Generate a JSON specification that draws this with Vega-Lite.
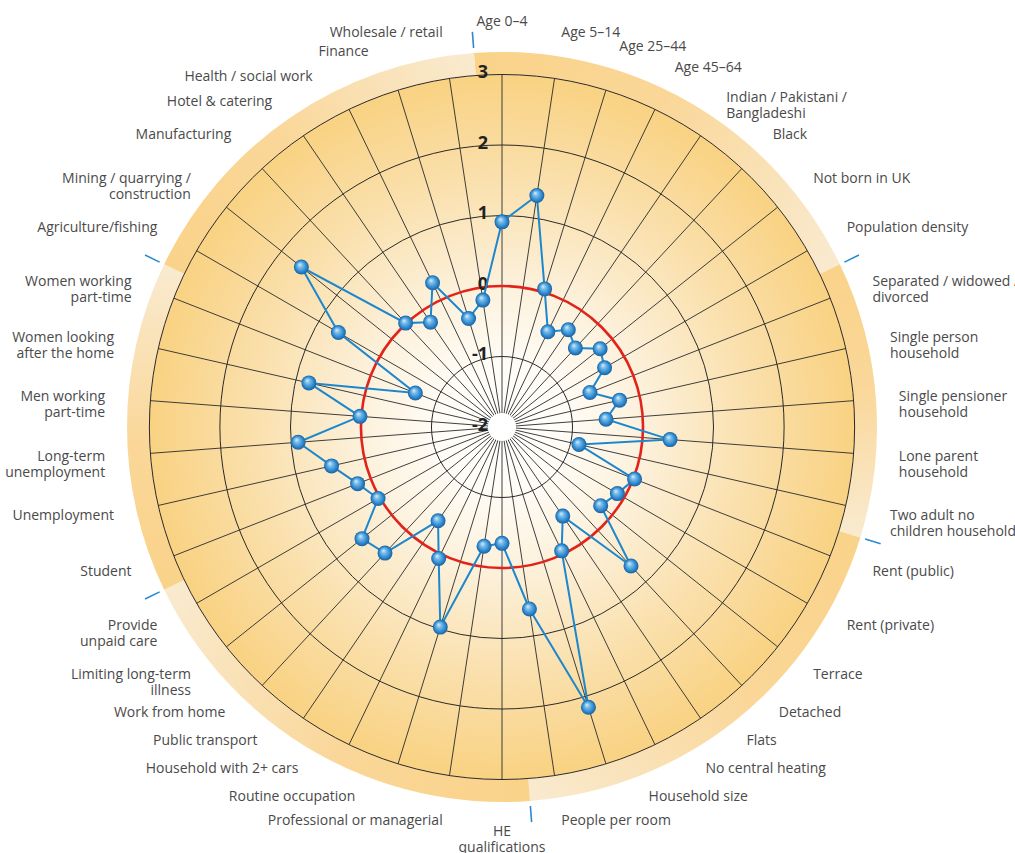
{
  "$schema": "https://vega.github.io/schema/vega-lite/v6.json",
  "width": 854,
  "height": 854,
  "autosize": {"type": "none"},
  "padding": {"left": 75, "top": 0, "right": 86, "bottom": 0},
  "background": "white",
  "config": {"view": {"stroke": null}},
  "datasets": {
    "vars": [
      {"i": 0, "label": "Age 0–4", "v": 0.91},
      {"i": 1, "label": "Age 5–14", "v": 1.32},
      {"i": 2, "label": "Age 25–44", "v": 0.05},
      {"i": 3, "label": "Age 45–64", "v": -0.5},
      {"i": 4, "label": "Indian / Pakistani /\nBangladeshi", "v": -0.33},
      {"i": 5, "label": "Black", "v": -0.47},
      {"i": 6, "label": "Not born in UK", "v": -0.22},
      {"i": 7, "label": "Population density", "v": -0.32},
      {"i": 8, "label": "Separated / widowed /\ndivorced", "v": -0.66},
      {"i": 9, "label": "Single person\nhousehold", "v": -0.29},
      {"i": 10, "label": "Single pensioner\nhousehold", "v": -0.52},
      {"i": 11, "label": "Lone parent\nhousehold", "v": 0.39},
      {"i": 12, "label": "Two adult no\nchildren household", "v": -0.88},
      {"i": 13, "label": "Rent (public)", "v": 0.02},
      {"i": 14, "label": "Rent (private)", "v": -0.11},
      {"i": 15, "label": "Terrace", "v": -0.21},
      {"i": 16, "label": "Detached", "v": 0.69},
      {"i": 17, "label": "Flats", "v": -0.47},
      {"i": 18, "label": "No central heating", "v": -0.05},
      {"i": 19, "label": "Household size", "v": 2.16},
      {"i": 20, "label": "People per room", "v": 0.61},
      {"i": 21, "label": "HE\nqualifications", "v": -0.35},
      {"i": 22, "label": "Professional or managerial", "v": -0.29},
      {"i": 23, "label": "Routine occupation", "v": 0.97},
      {"i": 24, "label": "Household with 2+ cars", "v": 0.07},
      {"i": 25, "label": "Public transport", "v": -0.39},
      {"i": 26, "label": "Work from home", "v": 0.44},
      {"i": 27, "label": "Limiting long-term\nillness", "v": 0.54},
      {"i": 28, "label": "Provide\nunpaid care", "v": 0.03},
      {"i": 29, "label": "Student", "v": 0.2},
      {"i": 30, "label": "Unemployment", "v": 0.48},
      {"i": 31, "label": "Long-term\nunemployment", "v": 0.9},
      {"i": 32, "label": "Men working\npart-time", "v": 0.02},
      {"i": 33, "label": "Women looking\nafter the home", "v": 0.81},
      {"i": 34, "label": "Women working\npart-time", "v": -0.68},
      {"i": 35, "label": "Agriculture/fishing", "v": 0.68},
      {"i": 36, "label": "Mining / quarrying /\nconstruction", "v": 1.64},
      {"i": 37, "label": "Manufacturing", "v": 0.01},
      {"i": 38, "label": "Hotel & catering", "v": -0.2},
      {"i": 39, "label": "Health / social work", "v": 0.27},
      {"i": 40, "label": "Finance", "v": -0.39},
      {"i": 41, "label": "Wholesale / retail", "v": -0.18}
    ],
    "groups": [
      {"g": "G1", "start": -0.5, "end": 7.5},
      {"g": "G2", "start": 7.5, "end": 12.5},
      {"g": "G3", "start": 12.5, "end": 20.5},
      {"g": "G4", "start": 20.5, "end": 28.5},
      {"g": "G5", "start": 28.5, "end": 34.5},
      {"g": "G6", "start": 34.5, "end": 41.5}
    ],
    "circles": [
      {"kind": "disc", "r": 3},
      {"kind": "ring", "r": -1},
      {"kind": "ring", "r": 1},
      {"kind": "ring", "r": 2},
      {"kind": "ring", "r": 3},
      {"kind": "zero", "r": 0},
      {"kind": "hole", "r": -1.8}
    ],
    "ticks": [
      {"t": 3, "lab": "3"}, {"t": 2, "lab": "2"}, {"t": 1, "lab": "1"},
      {"t": 0, "lab": "0"}, {"t": -1, "lab": "-1"}, {"t": -2, "lab": "-2"}
    ]
  },
  "layer": [
    {
      "data": {"name": "circles"},
      "transform": [{"filter": "datum.kind == 'disc'"}, {"calculate": "0", "as": "a0"}, {"calculate": "42", "as": "a1"}, {"calculate": "-2", "as": "r0"}],
      "mark": {"type": "arc", "stroke": null, "fill": {"gradient": "radial", "x1": 0.5, "y1": 0.5, "r1": 0, "x2": 0.5, "y2": 0.5, "r2": 0.5,
        "stops": [{"offset": 0, "color": "#ffffff"}, {"offset": 0.18, "color": "#fffcf6"}, {"offset": 0.42, "color": "#fcf0d9"}, {"offset": 0.7, "color": "#fae0ad"}, {"offset": 1, "color": "#f9d282"}]}},
      "encoding": {
        "theta": {"field": "a0", "type": "quantitative", "stack": null, "scale": {"type": "linear", "domain": [0, 42], "range": [0, 6.2832], "zero": false, "nice": false}},
        "theta2": {"field": "a1"},
        "radius": {"field": "r", "type": "quantitative", "scale": {"type": "linear", "domain": [-2, 3], "range": [0, 352.5], "zero": false, "nice": false}},
        "radius2": {"field": "r0"}
      }
    },
    {
      "data": {"name": "groups"}, "transform": [{"filter": "datum.g == 'G1'"}, {"calculate": "3.319", "as": "ro"}, {"calculate": "3", "as": "ri"}],
      "mark": {"type": "arc", "stroke": null, "fill": {"gradient": "linear", "x1": 0.0023, "y1": 0.0553, "x2": 1.1543, "y2": 0.4589,
        "stops": [{"offset": 0, "color": "#fad38a"}, {"offset": 0.45, "color": "#fad799"}, {"offset": 1, "color": "#f9eacf"}]}},
      "encoding": {
        "theta": {"field": "start", "type": "quantitative", "stack": null, "scale": {"type": "linear", "domain": [0, 42], "range": [0, 6.2832], "zero": false, "nice": false}},
        "theta2": {"field": "end"},
        "radius": {"field": "ro", "type": "quantitative", "scale": {"type": "linear", "domain": [-2, 3], "range": [0, 352.5], "zero": false, "nice": false}},
        "radius2": {"field": "ri"}
      }
    },
    {
      "data": {"name": "groups"}, "transform": [{"filter": "datum.g == 'G2'"}, {"calculate": "3.319", "as": "ro"}, {"calculate": "3", "as": "ri"}],
      "mark": {"type": "arc", "stroke": null, "fill": {"gradient": "linear", "x1": 0.1766, "y1": 0.0179, "x2": 0.192, "y2": 0.9931,
        "stops": [{"offset": 0, "color": "#fad38a"}, {"offset": 0.45, "color": "#fad799"}, {"offset": 1, "color": "#f9eacf"}]}},
      "encoding": {
        "theta": {"field": "start", "type": "quantitative", "stack": null, "scale": {"type": "linear", "domain": [0, 42], "range": [0, 6.2832], "zero": false, "nice": false}},
        "theta2": {"field": "end"},
        "radius": {"field": "ro", "type": "quantitative", "scale": {"type": "linear", "domain": [-2, 3], "range": [0, 352.5], "zero": false, "nice": false}},
        "radius2": {"field": "ri"}
      }
    },
    {
      "data": {"name": "groups"}, "transform": [{"filter": "datum.g == 'G3'"}, {"calculate": "3.319", "as": "ro"}, {"calculate": "3", "as": "ri"}],
      "mark": {"type": "arc", "stroke": null, "fill": {"gradient": "linear", "x1": 0.9676, "y1": 0.0123, "x2": -0.1436, "y2": 0.733,
        "stops": [{"offset": 0, "color": "#fad38a"}, {"offset": 0.45, "color": "#fad799"}, {"offset": 1, "color": "#f9eacf"}]}},
      "encoding": {
        "theta": {"field": "start", "type": "quantitative", "stack": null, "scale": {"type": "linear", "domain": [0, 42], "range": [0, 6.2832], "zero": false, "nice": false}},
        "theta2": {"field": "end"},
        "radius": {"field": "ro", "type": "quantitative", "scale": {"type": "linear", "domain": [-2, 3], "range": [0, 352.5], "zero": false, "nice": false}},
        "radius2": {"field": "ri"}
      }
    },
    {
      "data": {"name": "groups"}, "transform": [{"filter": "datum.g == 'G4'"}, {"calculate": "3.319", "as": "ro"}, {"calculate": "3", "as": "ri"}],
      "mark": {"type": "arc", "stroke": null, "fill": {"gradient": "linear", "x1": 0.9977, "y1": 0.9447, "x2": -0.1543, "y2": 0.5411,
        "stops": [{"offset": 0, "color": "#fad38a"}, {"offset": 0.45, "color": "#fad799"}, {"offset": 1, "color": "#f9eacf"}]}},
      "encoding": {
        "theta": {"field": "start", "type": "quantitative", "stack": null, "scale": {"type": "linear", "domain": [0, 42], "range": [0, 6.2832], "zero": false, "nice": false}},
        "theta2": {"field": "end"},
        "radius": {"field": "ro", "type": "quantitative", "scale": {"type": "linear", "domain": [-2, 3], "range": [0, 352.5], "zero": false, "nice": false}},
        "radius2": {"field": "ri"}
      }
    },
    {
      "data": {"name": "groups"}, "transform": [{"filter": "datum.g == 'G5'"}, {"calculate": "3.319", "as": "ro"}, {"calculate": "3", "as": "ri"}],
      "mark": {"type": "arc", "stroke": null, "fill": {"gradient": "linear", "x1": 0.8234, "y1": 0.985, "x2": 0.8234, "y2": 0.015,
        "stops": [{"offset": 0, "color": "#fad38a"}, {"offset": 0.45, "color": "#fad799"}, {"offset": 1, "color": "#f9eacf"}]}},
      "encoding": {
        "theta": {"field": "start", "type": "quantitative", "stack": null, "scale": {"type": "linear", "domain": [0, 42], "range": [0, 6.2832], "zero": false, "nice": false}},
        "theta2": {"field": "end"},
        "radius": {"field": "ro", "type": "quantitative", "scale": {"type": "linear", "domain": [-2, 3], "range": [0, 352.5], "zero": false, "nice": false}},
        "radius2": {"field": "ri"}
      }
    },
    {
      "data": {"name": "groups"}, "transform": [{"filter": "datum.g == 'G6'"}, {"calculate": "3.319", "as": "ro"}, {"calculate": "3", "as": "ri"}],
      "mark": {"type": "arc", "stroke": null, "fill": {"gradient": "linear", "x1": 0.0325, "y1": 0.9779, "x2": 1.1778, "y2": 0.4239,
        "stops": [{"offset": 0, "color": "#fad38a"}, {"offset": 0.45, "color": "#fad799"}, {"offset": 1, "color": "#f9eacf"}]}},
      "encoding": {
        "theta": {"field": "start", "type": "quantitative", "stack": null, "scale": {"type": "linear", "domain": [0, 42], "range": [0, 6.2832], "zero": false, "nice": false}},
        "theta2": {"field": "end"},
        "radius": {"field": "ro", "type": "quantitative", "scale": {"type": "linear", "domain": [-2, 3], "range": [0, 352.5], "zero": false, "nice": false}},
        "radius2": {"field": "ri"}
      }
    },
    {
      "data": {"name": "vars"},
      "transform": [
        {"calculate": "0", "as": "c0"},
        {"calculate": "5*sin(datum.i*PI/21)", "as": "sx"},
        {"calculate": "5*cos(datum.i*PI/21)", "as": "sy"}
      ],
      "mark": {"type": "rule", "stroke": "#2a2a2a", "strokeWidth": 0.9},
      "encoding": {
        "x": {"field": "c0", "type": "quantitative", "axis": null, "scale": {"domain": [-6.0567, 6.0567], "nice": false, "zero": false}},
        "y": {"field": "c0", "type": "quantitative", "axis": null, "scale": {"domain": [-6.0567, 6.0567], "nice": false, "zero": false}},
        "x2": {"field": "sx"},
        "y2": {"field": "sy"}
      }
    },
    {
      "data": {"name": "circles"},
      "transform": [{"filter": "datum.kind == 'ring'"}, {"calculate": "0", "as": "a0"}, {"calculate": "42", "as": "a1"}, {"calculate": "-2", "as": "r0"}],
      "mark": {"type": "arc", "filled": false, "stroke": "#2a2a2a", "strokeWidth": 1},
      "encoding": {
        "theta": {"field": "a0", "type": "quantitative", "stack": null, "scale": {"type": "linear", "domain": [0, 42], "range": [0, 6.2832], "zero": false, "nice": false}},
        "theta2": {"field": "a1"},
        "radius": {"field": "r", "type": "quantitative", "scale": {"type": "linear", "domain": [-2, 3], "range": [0, 352.5], "zero": false, "nice": false}},
        "radius2": {"field": "r0"}
      }
    },
    {
      "data": {"name": "circles"},
      "transform": [{"filter": "datum.kind == 'zero'"}, {"calculate": "0", "as": "a0"}, {"calculate": "42", "as": "a1"}, {"calculate": "-2", "as": "r0"}],
      "mark": {"type": "arc", "filled": false, "stroke": "#e2231a", "strokeWidth": 2.6},
      "encoding": {
        "theta": {"field": "a0", "type": "quantitative", "stack": null, "scale": {"type": "linear", "domain": [0, 42], "range": [0, 6.2832], "zero": false, "nice": false}},
        "theta2": {"field": "a1"},
        "radius": {"field": "r", "type": "quantitative", "scale": {"type": "linear", "domain": [-2, 3], "range": [0, 352.5], "zero": false, "nice": false}},
        "radius2": {"field": "r0"}
      }
    },
    {
      "data": {"name": "circles"},
      "transform": [{"filter": "datum.kind == 'hole'"}, {"calculate": "0", "as": "a0"}, {"calculate": "42", "as": "a1"}, {"calculate": "-2", "as": "r0"}],
      "mark": {"type": "arc", "fill": "#ffffff", "stroke": null},
      "encoding": {
        "theta": {"field": "a0", "type": "quantitative", "stack": null, "scale": {"type": "linear", "domain": [0, 42], "range": [0, 6.2832], "zero": false, "nice": false}},
        "theta2": {"field": "a1"},
        "radius": {"field": "r", "type": "quantitative", "scale": {"type": "linear", "domain": [-2, 3], "range": [0, 352.5], "zero": false, "nice": false}},
        "radius2": {"field": "r0"}
      }
    },
    {
      "data": {"name": "ticks"},
      "transform": [{"calculate": "0", "as": "c0"}, {"calculate": "datum.t + 2", "as": "ty"}],
      "mark": {"type": "text", "align": "right", "baseline": "middle", "dx": -14, "dy": -1, "font": "Open Sans", "fontWeight": "bold", "fontSize": 18, "color": "#222222"},
      "encoding": {
        "x": {"field": "c0", "type": "quantitative", "axis": null, "scale": {"domain": [-6.0567, 6.0567], "nice": false, "zero": false}},
        "y": {"field": "ty", "type": "quantitative", "axis": null, "scale": {"domain": [-6.0567, 6.0567], "nice": false, "zero": false}},
        "text": {"field": "lab"}
      }
    },
    {
      "data": {"name": "groups"},
      "transform": [
        {"calculate": "5.39*sin(datum.start*PI/21)", "as": "bx1"},
        {"calculate": "5.39*cos(datum.start*PI/21)", "as": "by1"},
        {"calculate": "5.62*sin(datum.start*PI/21)", "as": "bx2"},
        {"calculate": "5.62*cos(datum.start*PI/21)", "as": "by2"}
      ],
      "mark": {"type": "rule", "stroke": "#2b8ad0", "strokeWidth": 1.6},
      "encoding": {
        "x": {"field": "bx1", "type": "quantitative", "axis": null, "scale": {"domain": [-6.0567, 6.0567], "nice": false, "zero": false}},
        "y": {"field": "by1", "type": "quantitative", "axis": null, "scale": {"domain": [-6.0567, 6.0567], "nice": false, "zero": false}},
        "x2": {"field": "bx2"},
        "y2": {"field": "by2"}
      }
    },
    {
      "data": {"name": "vars"},
      "transform": [
        {"calculate": "(datum.v+2)*sin(datum.i*PI/21)", "as": "px"},
        {"calculate": "(datum.v+2)*cos(datum.i*PI/21)", "as": "py"}
      ],
      "mark": {"type": "line", "interpolate": "linear-closed", "stroke": "#1c87cc", "strokeWidth": 2},
      "encoding": {
        "x": {"field": "px", "type": "quantitative", "axis": null, "scale": {"domain": [-6.0567, 6.0567], "nice": false, "zero": false}},
        "y": {"field": "py", "type": "quantitative", "axis": null, "scale": {"domain": [-6.0567, 6.0567], "nice": false, "zero": false}},
        "order": {"field": "i", "type": "quantitative"}
      }
    },
    {
      "data": {"name": "vars"},
      "transform": [
        {"calculate": "(datum.v+2)*sin(datum.i*PI/21)", "as": "px"},
        {"calculate": "(datum.v+2)*cos(datum.i*PI/21)", "as": "py"}
      ],
      "mark": {"type": "point", "shape": "circle", "filled": true, "size": 225, "opacity": 1, "strokeWidth": 0,
        "fill": {"gradient": "radial", "x1": 0.38, "y1": 0.32, "r1": 0, "x2": 0.5, "y2": 0.5, "r2": 0.5,
          "stops": [{"offset": 0, "color": "#e4f2fc"}, {"offset": 0.3, "color": "#7cbfea"}, {"offset": 0.72, "color": "#2f8bd0"}, {"offset": 1, "color": "#1b5f9f"}]}},
      "encoding": {
        "x": {"field": "px", "type": "quantitative", "axis": null, "scale": {"domain": [-6.0567, 6.0567], "nice": false, "zero": false}},
        "y": {"field": "py", "type": "quantitative", "axis": null, "scale": {"domain": [-6.0567, 6.0567], "nice": false, "zero": false}}
      }
    },
    {
      "data": {"name": "vars"},
      "transform": [
        {"filter": "datum.i >= 1 && datum.i <= 20"},
        {"calculate": "max(5.645*cos(datum.i*PI/21), -5.645 + 0.397*(20 - datum.i))", "as": "ly"},
        {"calculate": "sqrt(max(0, 31.866 - datum.ly*datum.ly))", "as": "lx"}
      ],
      "mark": {"type": "text", "align": "left", "baseline": "middle", "font": "Open Sans", "fontSize": 14, "lineHeight": 16, "lineBreak": "\n", "color": "#4a4a4a"},
      "encoding": {
        "x": {"field": "lx", "type": "quantitative", "axis": null, "scale": {"domain": [-6.0567, 6.0567], "nice": false, "zero": false}},
        "y": {"field": "ly", "type": "quantitative", "axis": null, "scale": {"domain": [-6.0567, 6.0567], "nice": false, "zero": false}},
        "text": {"field": "label"}
      }
    },
    {
      "data": {"name": "vars"},
      "transform": [
        {"filter": "datum.i >= 22"},
        {"calculate": "max(5.645*cos(datum.i*PI/21), -5.645 + 0.397*(datum.i - 22))", "as": "ly0"},
        {"calculate": "min(datum.ly0, 5.674 - 0.355*(41 - datum.i))", "as": "ly"},
        {"calculate": "-sqrt(max(0, 31.866 - datum.ly*datum.ly))", "as": "lx"}
      ],
      "mark": {"type": "text", "align": "right", "baseline": "middle", "font": "Open Sans", "fontSize": 14, "lineHeight": 16, "lineBreak": "\n", "color": "#4a4a4a"},
      "encoding": {
        "x": {"field": "lx", "type": "quantitative", "axis": null, "scale": {"domain": [-6.0567, 6.0567], "nice": false, "zero": false}},
        "y": {"field": "ly", "type": "quantitative", "axis": null, "scale": {"domain": [-6.0567, 6.0567], "nice": false, "zero": false}},
        "text": {"field": "label"}
      }
    },
    {
      "data": {"name": "vars"},
      "transform": [
        {"filter": "datum.i == 0"},
        {"calculate": "0", "as": "lx"},
        {"calculate": "5.645", "as": "ly"}
      ],
      "mark": {"type": "text", "align": "center", "baseline": "bottom", "font": "Open Sans", "fontSize": 14, "lineHeight": 16, "lineBreak": "\n", "color": "#4a4a4a"},
      "encoding": {
        "x": {"field": "lx", "type": "quantitative", "axis": null, "scale": {"domain": [-6.0567, 6.0567], "nice": false, "zero": false}},
        "y": {"field": "ly", "type": "quantitative", "axis": null, "scale": {"domain": [-6.0567, 6.0567], "nice": false, "zero": false}},
        "text": {"field": "label"}
      }
    },
    {
      "data": {"name": "vars"},
      "transform": [
        {"filter": "datum.i == 21"},
        {"calculate": "0", "as": "lx"},
        {"calculate": "-5.645", "as": "ly"}
      ],
      "mark": {"type": "text", "align": "center", "baseline": "top", "font": "Open Sans", "fontSize": 14, "lineHeight": 16, "lineBreak": "\n", "color": "#4a4a4a"},
      "encoding": {
        "x": {"field": "lx", "type": "quantitative", "axis": null, "scale": {"domain": [-6.0567, 6.0567], "nice": false, "zero": false}},
        "y": {"field": "ly", "type": "quantitative", "axis": null, "scale": {"domain": [-6.0567, 6.0567], "nice": false, "zero": false}},
        "text": {"field": "label"}
      }
    }
  ]
}
